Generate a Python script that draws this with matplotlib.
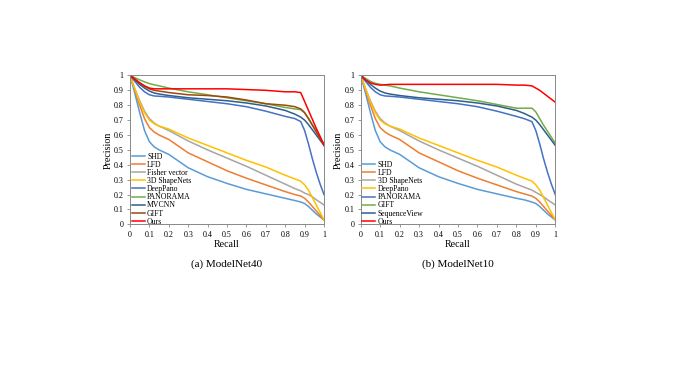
import matplotlib.pyplot as plt
from matplotlib.lines import Line2D

plt.rcParams['font.family'] = ['Liberation Serif', 'DejaVu Serif']

# --- Data (ModelNet40) ---
recall_a = [0, 0.025, 0.05, 0.075, 0.1, 0.125, 0.15, 0.2, 0.3, 0.4, 0.5, 0.6, 0.7, 0.8, 0.85, 0.88, 0.9, 0.92, 0.94, 0.96, 0.98, 1.0]
shd_a = [1, 0.88, 0.75, 0.63, 0.555, 0.52, 0.5, 0.47, 0.38, 0.32, 0.275, 0.235, 0.205, 0.175, 0.16, 0.15, 0.14, 0.12, 0.095, 0.07, 0.05, 0.03]
lfd_a = [1, 0.9, 0.8, 0.71, 0.65, 0.62, 0.6, 0.57, 0.48, 0.42, 0.36, 0.31, 0.265, 0.22, 0.2, 0.19, 0.175, 0.15, 0.12, 0.09, 0.06, 0.03]
fisher_a = [1, 0.91, 0.83, 0.76, 0.71, 0.68, 0.66, 0.63, 0.56, 0.5, 0.445, 0.39, 0.33, 0.27, 0.24, 0.225, 0.21, 0.2, 0.185, 0.165, 0.148, 0.13]
shapenets_a = [1, 0.91, 0.82, 0.75, 0.7, 0.675, 0.66, 0.64, 0.58, 0.53, 0.48, 0.43, 0.385, 0.33, 0.305, 0.29, 0.265, 0.23, 0.18, 0.13, 0.08, 0.03]
deeppano_a = [1, 0.96, 0.92, 0.89, 0.87, 0.862, 0.86, 0.855, 0.84, 0.825, 0.81, 0.79, 0.76, 0.725, 0.71, 0.69, 0.63, 0.54, 0.44, 0.35, 0.27, 0.2]
panorama_a = [1, 0.985, 0.97, 0.957, 0.945, 0.937, 0.93, 0.915, 0.89, 0.87, 0.85, 0.83, 0.81, 0.785, 0.775, 0.77, 0.75, 0.71, 0.67, 0.63, 0.585, 0.54]
mvcnn_a = [1, 0.97, 0.94, 0.915, 0.895, 0.882, 0.875, 0.865, 0.85, 0.84, 0.83, 0.815, 0.795, 0.765, 0.74, 0.72, 0.7, 0.67, 0.635, 0.6, 0.565, 0.53]
gift_a = [1, 0.975, 0.95, 0.927, 0.91, 0.9, 0.895, 0.885, 0.87, 0.865, 0.855, 0.835, 0.81, 0.8, 0.79, 0.775, 0.75, 0.71, 0.665, 0.62, 0.575, 0.535]
ours_a = [1, 0.975, 0.95, 0.93, 0.915, 0.91, 0.91, 0.91, 0.91, 0.91, 0.91, 0.905, 0.9, 0.89, 0.89, 0.885, 0.825, 0.765, 0.705, 0.645, 0.59, 0.53]

# --- Data (ModelNet10) ---
recall_b = [0, 0.025, 0.05, 0.075, 0.1, 0.125, 0.15, 0.2, 0.3, 0.4, 0.5, 0.6, 0.7, 0.8, 0.84, 0.88, 0.9, 0.92, 0.94, 0.96, 0.98, 1.0]
shd_b = [1, 0.88, 0.75, 0.63, 0.555, 0.52, 0.5, 0.47, 0.38, 0.32, 0.275, 0.235, 0.205, 0.175, 0.165, 0.15, 0.14, 0.12, 0.095, 0.07, 0.05, 0.03]
lfd_b = [1, 0.9, 0.8, 0.71, 0.65, 0.62, 0.6, 0.57, 0.48, 0.42, 0.36, 0.31, 0.265, 0.22, 0.205, 0.19, 0.175, 0.15, 0.12, 0.09, 0.06, 0.03]
shapenets_b = [1, 0.91, 0.83, 0.76, 0.71, 0.68, 0.66, 0.63, 0.56, 0.5, 0.445, 0.39, 0.33, 0.27, 0.25, 0.23, 0.215, 0.2, 0.185, 0.165, 0.148, 0.13]
deeppano_b = [1, 0.91, 0.82, 0.75, 0.7, 0.675, 0.66, 0.64, 0.58, 0.53, 0.48, 0.43, 0.385, 0.33, 0.31, 0.29, 0.265, 0.23, 0.18, 0.13, 0.08, 0.03]
panorama_b = [1, 0.96, 0.92, 0.89, 0.87, 0.862, 0.86, 0.855, 0.84, 0.825, 0.81, 0.79, 0.76, 0.725, 0.71, 0.69, 0.63, 0.54, 0.44, 0.35, 0.27, 0.2]
gift_b = [1, 0.98, 0.96, 0.947, 0.94, 0.935, 0.93, 0.915, 0.89, 0.87, 0.85, 0.83, 0.805, 0.78, 0.78, 0.78, 0.755, 0.71, 0.665, 0.625, 0.585, 0.545]
seqview_b = [1, 0.97, 0.94, 0.915, 0.895, 0.882, 0.875, 0.865, 0.85, 0.84, 0.83, 0.815, 0.795, 0.765, 0.745, 0.72, 0.7, 0.67, 0.635, 0.6, 0.565, 0.53]
ours_b = [1, 0.97, 0.95, 0.94, 0.935, 0.937, 0.94, 0.94, 0.94, 0.94, 0.94, 0.94, 0.94, 0.935, 0.935, 0.93, 0.915, 0.9, 0.88, 0.86, 0.84, 0.82]

series_a = [
    ('SHD', shd_a, '#5B9BD5'),
    ('LFD', lfd_a, '#ED7D31'),
    ('Fisher vector', fisher_a, '#A5A5A5'),
    ('3D ShapeNets', shapenets_a, '#FFC000'),
    ('DeepPano', deeppano_a, '#4472C4'),
    ('PANORAMA', panorama_a, '#70AD47'),
    ('MVCNN', mvcnn_a, '#2E5F8E'),
    ('GIFT', gift_a, '#9E480E'),
    ('Ours', ours_a, '#FF0000'),
]
series_b = [
    ('SHD', shd_b, '#5B9BD5'),
    ('LFD', lfd_b, '#ED7D31'),
    ('3D ShapeNets', shapenets_b, '#A5A5A5'),
    ('DeepPano', deeppano_b, '#FFC000'),
    ('PANORAMA', panorama_b, '#4472C4'),
    ('GIFT', gift_b, '#70AD47'),
    ('SequenceView', seqview_b, '#2E5F8E'),
    ('Ours', ours_b, '#FF0000'),
]

fig = plt.figure(figsize=(6.77, 3.79), dpi=100)
ax_a = fig.add_axes([0.192, 0.408, 0.2866, 0.393])
ax_b = fig.add_axes([0.5328, 0.408, 0.2874, 0.393])


def draw(ax, recall, series, caption):
    for name, vals, col in series:
        ax.plot(recall, vals, color=col, lw=1.1, label=name)
    ax.set_xlim(0, 1)
    ax.set_ylim(0, 1)
    ticks = [i / 10 for i in range(11)]
    labels = ['0'] + [f'{t:.1f}' for t in ticks[1:-1]] + ['1']
    ax.set_xticks(ticks)
    ax.set_xticklabels(labels)
    ax.set_yticks(ticks)
    ax.set_yticklabels(labels)
    ax.tick_params(labelsize=5.8, length=2.5, width=0.6, color='#888888', pad=2)
    for s in ax.spines.values():
        s.set_color('#888888')
        s.set_linewidth(0.7)
    ax.set_xlabel('Recall', fontsize=7.2, labelpad=1)
    ax.set_ylabel('Precision', fontsize=7.2, labelpad=1)
    handles = [Line2D([0], [0], color=c, lw=1.1) for _, _, c in series]
    ax.legend(handles, [n for n, _, _ in series], loc='lower left', frameon=False,
              bbox_to_anchor=(0.0, -0.02), fontsize=5.6, handlelength=1.7,
              handletextpad=0.3, labelspacing=0.02, borderaxespad=0.1, borderpad=0.1)
    ax.text(0.5, -0.27, caption, transform=ax.transAxes, ha='center', va='center', fontsize=8)


draw(ax_a, recall_a, series_a, '(a) ModelNet40')
draw(ax_b, recall_b, series_b, '(b) ModelNet10')

fig.savefig('out.png', dpi=100)
